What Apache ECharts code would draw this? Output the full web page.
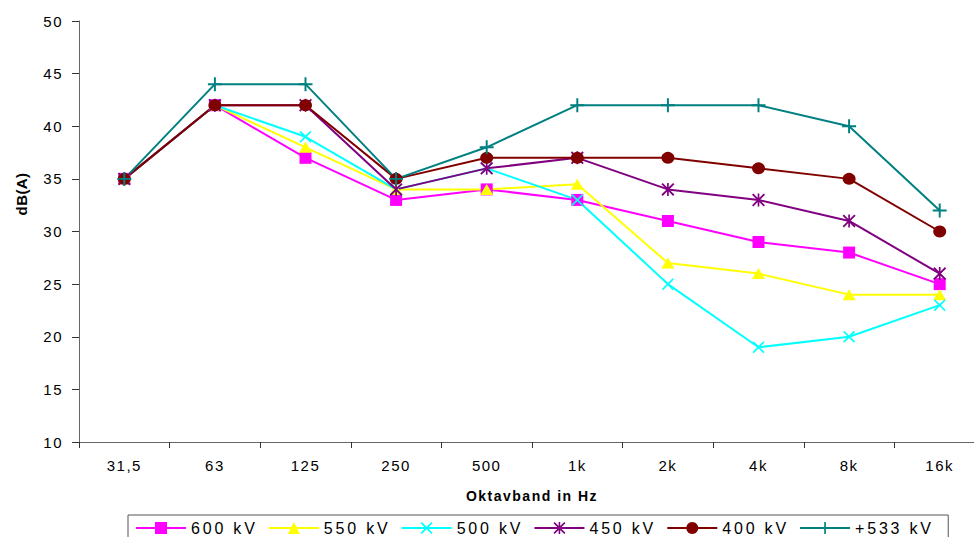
<!DOCTYPE html>
<html><head><meta charset="utf-8">
<script src="https://cdn.jsdelivr.net/npm/echarts@6/dist/echarts.min.js"></script>
<style>
html,body{margin:0;padding:0;background:#fff;}
#chart{width:974px;height:537px;}
#chart text{letter-spacing:1.5px;}
#chart text[style*="16px"]{letter-spacing:2.8px;}
#chart text[style*="bold 14px"]{letter-spacing:2.5px;}
#chart text[style*="bold 15px"]{letter-spacing:0.4px;}
</style>
</head><body>
<div id="chart"></div>
<script>
const categories = ['31,5','63','125','250','500','1k','2k','4k','8k','16k'];
const s600 = [35,42,37,33,34,33,31,29,28,25];
const s550 = [35,42,38,34,34,34.5,27,26,24,24];
const s500 = [35,42,39,34,36,33,25,19,20,23];
const s450 = [35,42,42,34,36,37,34,33,31,26];
const s400 = [35,42,42,35,37,37,37,36,35,30];
const s533 = [35,44,44,35,38,42,42,42,40,32];
const seriesNames = ['600 kV','550 kV','500 kV','450 kV','400 kV','+533 kV'];
const yTicks = {min:10, max:50, interval:5};

const PLUS = 'path://M-1.4,-10H1.4V-1.4H10V1.4H1.4V10H-1.4V1.4H-10V-1.4H-1.4Z';
const XMARK = 'path://M-10,-8L-8,-10L0,-2L8,-10L10,-8L2,0L10,8L8,10L0,2L-8,10L-10,8L-2,0Z';
const STAR = 'path://M-10,-8L-8,-10L0,-2L8,-10L10,-8L2,0L10,8L8,10L0,2L-8,10L-10,8L-2,0ZM-1.3,-10H1.3V10H-1.3Z';

const defs = [
  {data:s600, color:'#FF00FF', symbol:'rect', size:12},
  {data:s550, color:'#FFFF00', symbol:'triangle', size:[13,11]},
  {data:s500, color:'#00FFFF', symbol:XMARK, size:12},
  {data:s450, color:'#800080', symbol:STAR, size:13},
  {data:s400, color:'#800000', symbol:'circle', size:[13,12]},
  {data:s533, color:'#008080', symbol:PLUS, size:14}
];

const chart = echarts.init(document.getElementById('chart'), null, {renderer:'svg'});
chart.setOption({
  animation:false,
  backgroundColor:'#fff',
  textStyle:{fontFamily:'Liberation Sans, Arial, sans-serif', color:'#000'},
  grid:{left:79, width:906, top:21, bottom:95, containLabel:false, outerBoundsMode:'none'},
  xAxis:{
    type:'category', data:categories, boundaryGap:true,
    name:'Oktavband in Hz', nameLocation:'middle', nameGap:47,
    nameTextStyle:{fontWeight:'bold', fontSize:14, color:'#000'},
    axisLine:{lineStyle:{color:'#666', width:1}},
    axisTick:{show:true, length:6, lineStyle:{color:'#333'}},
    axisLabel:{fontSize:15, color:'#000', margin:16, interval:0},
    splitLine:{show:false}
  },
  yAxis:{
    type:'value', min:yTicks.min, max:yTicks.max, interval:yTicks.interval,
    axisLine:{show:true, lineStyle:{color:'#666', width:1}},
    axisTick:{show:true, length:7, lineStyle:{color:'#333'}},
    axisLabel:{fontSize:15, color:'#000', margin:16},
    splitLine:{show:false}
  },
  graphic:[{
    type:'text', x:21, y:194, rotation:Math.PI/2,
    style:{text:'dB(A)', font:'bold 15px Liberation Sans, Arial, sans-serif', fill:'#000', align:'center', verticalAlign:'middle'}
  }],
  legend:{
    left:128, top:515, orient:'horizontal',
    itemWidth:50, itemHeight:15, itemGap:27,
    padding:[5,34,20,7],
    borderColor:'#555', borderWidth:1,
    textStyle:{fontSize:16, color:'#000'},
    data:seriesNames
  },
  series: defs.map((d,i)=>({
    type:'line', name:seriesNames[i], data:d.data,
    symbol:d.symbol, symbolSize:d.size, showAllSymbol:true,
    lineStyle:{color:d.color, width:2},
    itemStyle:{color:d.color},
    emphasis:{disabled:true}
  }))
});
</script>
</body></html>
